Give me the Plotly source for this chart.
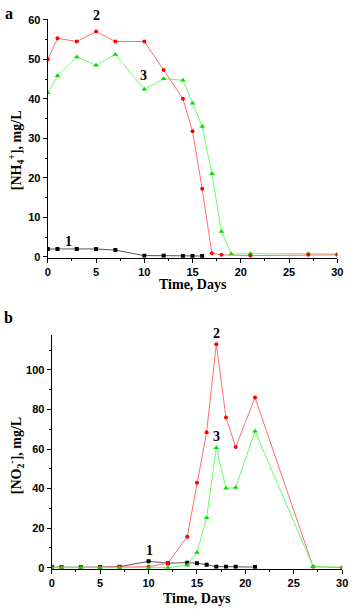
import plotly.graph_objects as go

W, H = 354, 614

# Panel a: NH4+
a_x1 = [0, 1, 3, 5, 7, 10, 12, 14, 15, 16]
a_y1 = [2.0, 2.0, 2.0, 2.0, 1.7, 0.3, 0.3, 0.2, 0.2, 0.2]
a_x2 = [0, 1, 3, 5, 7, 10, 12, 14, 15, 16, 17, 18, 21, 27, 30]
a_y2 = [50.0, 55.3, 54.5, 57.0, 54.5, 54.5, 47.3, 40.0, 31.8, 17.2, 0.9, 0.5, 0.3, 0.5, 0.5]
a_x3 = [0, 1, 3, 5, 7, 10, 12, 14, 15, 16, 17, 18, 19, 21, 27, 30]
a_y3 = [41.5, 45.8, 50.6, 48.5, 51.2, 42.4, 45.1, 44.7, 38.9, 33.0, 21.0, 6.4, 0.7, 0.8, 0.8, 0.7]

# Panel b: NO2-
b_x1 = [0, 1, 3, 5, 7, 10, 12, 14, 15, 16, 17, 18, 19, 21]
b_y1 = [0.3, 0.2, 0.2, 0.3, 0.5, 3.2, 2.3, 2.5, 2.3, 1.5, 0.5, 0.5, 0.5, 0.3]
b_x2 = [0, 1, 3, 5, 7, 10, 12, 14, 15, 16, 17, 18, 19, 21, 27, 30]
b_y2 = [0.0, 0.0, 0.0, 0.2, 0.3, 0.5, 2.3, 15.7, 43.0, 68.5, 113.0, 76.0, 61.0, 86.0, 0.5, 0.0]
b_x3 = [0, 1, 3, 5, 7, 10, 12, 14, 15, 16, 17, 18, 19, 21, 27, 30]
b_y3 = [0.0, 0.0, 0.0, 0.0, 0.0, 0.0, 0.0, 1.2, 7.7, 25.2, 60.7, 40.2, 40.5, 69.0, 0.5, 0.3]

x_ticks = [0, 5, 10, 15, 20, 25, 30]
a_yticks = [0, 10, 20, 30, 40, 50, 60]
b_yticks = [0, 20, 40, 60, 80, 100]

BLACK_L, BLACK_M = "#555555", "#000000"
RED_L, RED_M = "#ff6f6f", "#ff0000"
GRN_L, GRN_M = "#66ff66", "#00e000"

fig = go.Figure()

def add(x, y, xa, ya, lc, mc, sym, size):
    fig.add_trace(go.Scatter(x=x, y=y, xaxis=xa, yaxis=ya, mode="lines+markers",
                             line=dict(color=lc, width=1),
                             marker=dict(color=mc, symbol=sym, size=size, line=dict(width=0)),
                             showlegend=False))

add(a_x1, a_y1, "x", "y", BLACK_L, BLACK_M, "square", 4)
add(a_x3, a_y3, "x", "y", GRN_L, GRN_M, "triangle-up", 5)
add(a_x2, a_y2, "x", "y", RED_L, RED_M, "circle", 4)
add(b_x1, b_y1, "x2", "y2", BLACK_L, BLACK_M, "square", 4)
add(b_x2, b_y2, "x2", "y2", RED_L, RED_M, "circle", 4)
add(b_x3, b_y3, "x2", "y2", GRN_L, GRN_M, "triangle-up", 5)

def px_x(p):
    return p / W

def px_y(p):
    return (H - p) / H

tickfont = dict(family="Liberation Sans, Arial", size=11, color="black", weight="bold")
axcommon = dict(showline=True, linecolor="black", linewidth=1.3, ticks="outside",
                ticklen=4, tickwidth=1, tickcolor="black", showgrid=False, zeroline=False,
                tickfont=tickfont, mirror=False)

fig.update_layout(
    width=W, height=H, margin=dict(l=0, r=0, t=0, b=0),
    paper_bgcolor="white", plot_bgcolor="white",
    xaxis=dict(domain=[px_x(46), px_x(343)], range=[0, 30], anchor="y",
               tickvals=x_ticks, minor=dict(ticks="outside", ticklen=2, dtick=2.5, tickcolor="black"),
               **axcommon),
    yaxis=dict(domain=[px_y(257), px_y(14)], range=[-0.25, 60.25], anchor="x",
               tickvals=a_yticks, minor=dict(ticks="outside", ticklen=2, dtick=5, tickcolor="black"),
               **axcommon),
    xaxis2=dict(domain=[px_x(50), px_x(348)], range=[0, 30], anchor="y2",
                tickvals=x_ticks, minor=dict(ticks="outside", ticklen=2, dtick=2.5, tickcolor="black"),
                **axcommon),
    yaxis2=dict(domain=[px_y(573), px_y(335)], range=[-0.5, 117.9], anchor="x2",
                tickvals=b_yticks, minor=dict(ticks="outside", ticklen=2, dtick=10, tickcolor="black"),
                **axcommon),
)

serif_b = dict(family="Liberation Serif, Times New Roman", size=14, color="black")
serif = dict(family="Liberation Serif, Times New Roman", size=14, color="black", weight="bold")

anns = [
    dict(x=px_x(6), y=px_y(9), text="<b>a</b>", font=dict(family="Liberation Serif", size=16, color="black")),
    dict(x=px_x(6), y=px_y(318), text="<b>b</b>", font=dict(family="Liberation Serif", size=16, color="black")),
    dict(x=px_x(195), y=px_y(284), text="<b>Time, Days</b>", font=serif_b),
    dict(x=px_x(199), y=px_y(603), text="<b>Time, Days</b>", font=serif_b),
    dict(x=px_x(13), y=px_y(148), text="<b>[NH<sub>4</sub><sup>+</sup>], mg/L</b>", font=serif_b, textangle=-90),
    dict(x=px_x(13), y=px_y(458), text="<b>[NO<sub>2</sub><sup>-</sup>], mg/L</b>", font=serif_b, textangle=-90),
]
for a in anns:
    fig.add_annotation(xref="paper", yref="paper", xanchor="center", yanchor="middle",
                       showarrow=False, **a)

# curve number labels: (x-axis, y-domain ref, x value, y fraction of plot height, text)
labels = [
    ("x", "y domain", 5.0, 1.012, "2"), ("x", "y domain", 9.9, 0.761, "3"), ("x", "y domain", 2.1, 0.067, "1"),
    ("x2", "y2 domain", 17.0, 1.005, "2"), ("x2", "y2 domain", 17.0, 0.566, "3"), ("x2", "y2 domain", 10.1, 0.078, "1"),
]
for xa, ya, x, y, t in labels:
    fig.add_annotation(xref=xa, yref=ya, x=x, y=y, text=t, showarrow=False, font=serif,
                       xanchor="center", yanchor="middle")

fig.write_html("out.html", config={"displayModeBar": False},
               post_script="document.body.style.margin='0';document.body.style.padding='0';")
